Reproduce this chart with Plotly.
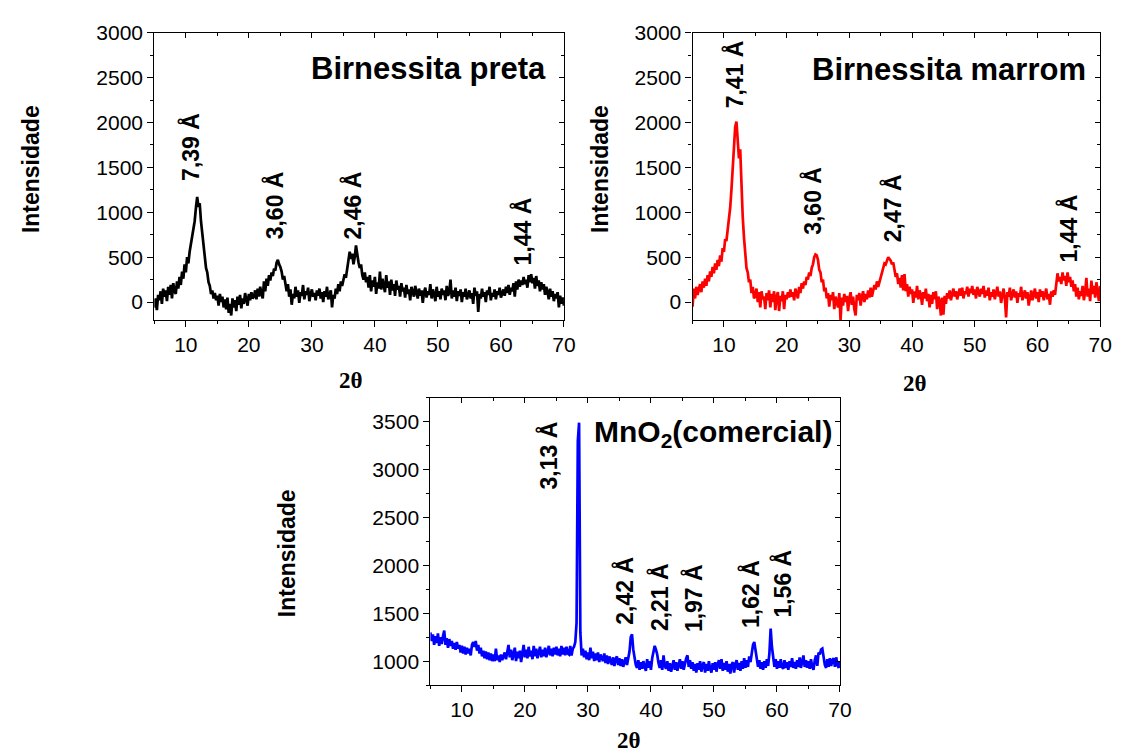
import numpy as np
import plotly.graph_objects as go

# 2-theta grid shared by all three patterns (5 to 70 degrees, 0.2 step)
two_theta = np.round(np.arange(5.0, 70.0001, 0.2), 1)

# Birnessita preta (black)
preta = [
    -60, 40, -90, 80, 20, 120, -20, 150, 60, 130,
    10, 170, 80, 190, 40, 210, 120, 90, 230, 150,
    280, 190, 340, 260, 420, 330, 500, 430, 560, 650,
    700, 820, 900, 1050, 1170, 1060, 1100, 900, 760, 620,
    520, 380, 330, 220, 180, 90, 130, 40, 100, 20,
    70, -40, 90, 0, 60, -60, 30, -80, 50, -120,
    -20, -150, 40, -60, 20, -100, 60, -30, 80, -70,
    40, -20, 100, 10, -40, 90, 20, 110, 40, 60,
    130, 30, 150, 60, 170, 90, 40, 230, 120, 260,
    180, 300, 240, 330, 290, 370, 350, 440, 470, 420,
    390, 340, 250, 290, 170, 120, 200, 60, 140, -30,
    90, 40, 170, 60, 130, -10, 110, 70, 190, 30,
    120, 80, 160, 10, 90, 140, 60, 100, 20, 130,
    70, 150, 40, 110, 0, 120, 60, 170, 30, 90,
    130, -60, 80, 40, 150, 90, 200, 120, 230, 180,
    250, 310, 270, 390, 450, 560, 480, 540, 420, 500,
    630, 520, 440, 380, 420, 300, 250, 330, 220, 280,
    160, 300, 120, 240, 170, 280, 90, 220, 150, 340,
    140, 260, 190, 110, 300, 160, 230, 80, 250, 130,
    200, 70, 240, 140, 180, 60, 210, 120, 160, 50,
    190, 90, 140, 20, 170, 100, 60, 180, 120, 40,
    150, 70, 130, -10, 110, 160, 50, 120, 80, 200,
    40, 140, 90, 10, 170, 60, 120, 30, 150, 80,
    130, 20, 180, 70, 110, 250, 40, 130, 60, 160,
    10, 120, 70, 140, 0, 110, 60, 150, 30, 90,
    130, 40, 100, -20, 160, 70, 120, -110, 90, 40,
    150, 60, 110, 0, 130, 80, 170, 20, 100, 60,
    140, 30, 120, 80, 160, 50, 110, 140, 70, 170,
    100, 190, 80, 160, 120, 210, 60, 230, 140, 250,
    170, 240, 190, 280, 200, 250, 160, 300, 220, 310,
    210, 270, 150, 290, 180, 240, 120, 220, 140, 200,
    80, 170, 110, 30, 150, 60, 120, 10, 90, 40,
    110, -60, 70, -20, 50, -40,
]

# Birnessita marrom (red)
marrom = [
    -50, 150, 40, 170, 80, 130, 200, 110, 230, 160,
    260, 180, 300, 230, 340, 280, 390, 320, 430, 360,
    470, 400, 520, 450, 600, 560, 700, 680, 790, 900,
    1050, 1250, 1500, 1700, 1950, 2010, 1850, 1600, 1700, 1200,
    950, 720, 560, 380, 330, 220, 250, 100, 170, 40,
    80, 150, 0, 110, -60, 120, 30, 60, -80, 100,
    20, 130, -60, 90, 0, 120, -90, 60, 110, -100,
    70, 10, 120, -80, 80, 30, 110, 50, 140, 60,
    110, 20, 150, 80, 40, 170, 100, 210, 150, 230,
    190, 280, 250, 330, 290, 380, 420, 500, 530, 520,
    470, 360, 330, 220, 250, 120, 160, 40, 100, -50,
    80, 20, 110, -80, 60, 0, -60, 100, -200, 50,
    -40, 90, 0, 70, -100, 40, 110, -30, 60, -80,
    -150, 80, 20, 100, -40, 60, 120, 0, 90, 30,
    130, 50, 160, 60, 120, 190, 140, 230, 170, 220,
    260, 330, 390, 430, 420, 470, 500, 480, 460, 420,
    440, 360, 280, 320, 200, 270, 160, 300, 130, 310,
    120, 200, 60, 170, 90, 140, -10, 120, 50, 180,
    30, 130, 80, -30, 110, 40, 150, 10, 90, -60,
    80, -20, 110, 30, 120, -80, 60, 10, -150, 50,
    -140, 70, -20, 100, 40, 130, 20, 90, 150, 60,
    120, 30, 110, 150, 70, 160, 40, 120, 90, 170,
    60, 150, 100, 180, 80, 140, 40, 170, 110, 60,
    150, 90, 180, 50, 130, 70, 160, 20, 110, 60,
    140, 30, 100, 170, 60, 120, -10, 90, 150, 40,
    -170, 110, 60, 160, 20, 90, 140, 50, 120, -10,
    100, 60, 170, 20, 90, 130, 40, 110, -40, 80,
    130, 20, 90, 150, 40, 110, 0, 140, 60, 120,
    20, 100, 150, 30, 90, -30, 120, 60, 130, 80,
    190, 320, 230, 280, 200, 330, 240, 290, 180, 330,
    220, 280, 170, 240, 120, 200, 60, 160, 30, 120,
    70, 180, 20, 110, 270, 60, 150, 10, 240, 90,
    180, 50, 220, 120, 10, 180,
]

# MnO2 comercial (blue)
mno2 = [
    1300, 1210, 1280, 1170, 1260, 1190, 1290, 1160, 1250, 1180,
    1260, 1320, 1170, 1240, 1140, 1230, 1160, 1210, 1130, 1190,
    1120, 1200, 1130, 1170, 1090, 1160, 1080, 1150, 1070, 1140,
    1080, 1130, 1060, 1170, 1200, 1150, 1210, 1110, 1170, 1080,
    1140, 1050, 1110, 1030, 1100, 1020, 1090, 1010, 1080, 1000,
    1070, 1000, 1130, 1010, 1060, 990, 1070, 1010, 1050, 1090,
    1020, 1100, 1170, 1040, 1120, 1010, 1090, 1140, 1000, 1100,
    1030, 1110, 990, 1090, 1170, 1040, 1120, 1030, 1150, 1050,
    1110, 1020, 1160, 1050, 1130, 1030, 1110, 1150, 1040, 1120,
    1050, 1140, 1040, 1120, 1160, 1060, 1130, 1050, 1140, 1070,
    1150, 1060, 1130, 1050, 1160, 1070, 1140, 1060, 1150, 1080,
    1070, 1160, 1060, 1130, 1150, 1200, 1400, 3300, 3490, 1300,
    1060, 1130, 1040, 1110, 1020, 1090, 1010, 1140, 1030, 1100,
    1000, 1080, 1010, 1090, 990, 1070, 1020, 1000, 1080, 980,
    1060, 970, 1050, 990, 960, 1040, 950, 1020, 1050, 960,
    1030, 950, 1020, 940, 1010, 1040, 960, 1050, 1100, 1250,
    1280, 1120, 1040, 960, 930, 1010, 910, 990, 920, 1000,
    940, 900, 1020, 930, 1000, 910, 1030, 1080, 1160, 1120,
    1070, 980, 930, 1010, 910, 1060, 950, 920, 1000, 900,
    980, 890, 970, 1010, 910, 990, 900, 980, 1020, 920,
    1000, 910, 990, 1030, 1060, 940, 1010, 920, 990, 900,
    970, 880, 980, 910, 1000, 890, 960, 990, 880, 970,
    900, 1000, 920, 880, 980, 910, 990, 890, 970, 1010,
    920, 1020, 900, 980, 910, 1000, 890, 970, 870, 960,
    990, 880, 970, 1010, 910, 980, 900, 1000, 920, 1030,
    930, 1010, 940, 1050, 990, 1090, 1170, 1200, 1100, 1000,
    940, 1010, 920, 990, 910, 1000, 930, 1020, 950, 1080,
    1340, 1150, 1010, 940, 1020, 920, 1000, 930, 1020, 940,
    920, 1010, 930, 990, 910, 1000, 940, 1030, 930, 990,
    920, 1010, 940, 1040, 930, 1000, 1060, 940, 1010, 930,
    1000, 920, 1020, 940, 910, 1010, 1060, 950, 1090, 1070,
    1120, 1130, 1030, 960, 930, 1020, 940, 1030, 950, 1010,
    1030, 940, 1040, 960, 930, 1000,
]

# Peak labels: (2-theta position, intensity at label base, text)
preta_peaks = [(10.7, 1330, "7,39 Å"), (24.2, 680, "3,60 Å"),
               (36.6, 680, "2,46 Å"), (63.4, 390, "1,44 Å")]
marrom_peaks = [(11.7, 2130, "7,41 Å"), (24.1, 730, "3,60 Å"),
                (36.9, 640, "2,47 Å"), (64.9, 420, "1,44 Å")]
mno2_peaks = [(23.8, 2770, "3,13 Å"), (35.9, 1360, "2,42 Å"),
              (41.4, 1290, "2,21 Å"), (46.8, 1280, "1,97 Å"),
              (55.8, 1330, "1,62 Å"), (60.9, 1430, "1,56 Å")]

NARROW = "Liberation Sans Narrow, Arial Narrow, Liberation Sans, Arial, sans-serif"
SANS = "Liberation Sans, Arial, sans-serif"
SERIF = "Liberation Serif, Times New Roman, serif"

W, H = 1128, 753

# panel boxes in pixels: (left, right, top, bottom)
panels = [
    dict(box=(156, 570, 21, 313), yr=[-200, 3000], color="#000000",
         data=preta, peaks=preta_peaks),
    dict(box=(700, 1112, 21, 313), yr=[-200, 3000], color="#ff0000",
         data=marrom, peaks=marrom_peaks),
    dict(box=(435, 849, 392, 684), yr=[750, 3750], color="#0000ff",
         data=mno2, peaks=mno2_peaks),
]

fig = go.Figure()
layout = {}
annotations = []

for i, p in enumerate(panels):
    l, r, t, b = p["box"]
    xd = [l / W, r / W]
    yd = [1 - b / H, 1 - t / H]
    n = i + 1
    xs = "" if n == 1 else str(n)
    ov = str(n + 3)

    fig.add_trace(go.Scatter(
        x=two_theta, y=p["data"], mode="lines",
        line=dict(color=p["color"], width=2.7),
        xaxis="x" + xs, yaxis="y" + xs, showlegend=False, hoverinfo="skip"))
    # empty trace so the mirrored (inner-tick) axes are drawn
    fig.add_trace(go.Scatter(x=[], y=[], xaxis="x" + ov, yaxis="y" + ov,
                             showlegend=False, hoverinfo="skip"))

    common = dict(showgrid=False, zeroline=False, linecolor="#000000",
                  linewidth=1.2, tickcolor="#000000", tickwidth=1.2)
    layout["xaxis" + xs] = dict(
        domain=xd, anchor="y" + xs, range=[5, 70], dtick=10, tick0=0,
        ticks="outside", ticklen=6, showline=True, mirror=True,
        minor=dict(ticks="outside", ticklen=3, dtick=5, tick0=0,
                   tickcolor="#000000", tickwidth=1.2),
        tickfont=dict(family=SANS, size=21, color="#000000"), **common)
    layout["yaxis" + xs] = dict(
        domain=yd, anchor="x" + xs, range=p["yr"], dtick=500, tick0=0,
        ticks="outside", ticklen=6, showline=True, mirror=True,
        minor=dict(ticks="outside", ticklen=3, dtick=250, tick0=0,
                   tickcolor="#000000", tickwidth=1.2),
        tickfont=dict(family=SANS, size=21, color="#000000"), **common)
    # inner ticks along the top and right edges
    layout["xaxis" + ov] = dict(
        overlaying="x" + xs, side="top", anchor="y" + ov, range=[5, 70],
        dtick=10, tick0=0, ticks="inside", ticklen=5, showticklabels=False,
        minor=dict(ticks="inside", ticklen=3, dtick=5, tick0=0,
                   tickcolor="#000000", tickwidth=1.2), **common)
    layout["yaxis" + ov] = dict(
        overlaying="y" + xs, side="right", anchor="x" + ov, range=p["yr"],
        dtick=500, tick0=0, ticks="inside", ticklen=5, showticklabels=False,
        minor=dict(ticks="inside", ticklen=3, dtick=250, tick0=0,
                   tickcolor="#000000", tickwidth=1.2), **common)

    for px, py, txt in p["peaks"]:
        annotations.append(dict(
            x=px, y=py, xref="x" + xs, yref="y" + xs, text="<b>" + txt + "</b>",
            textangle=-90, showarrow=False, xanchor="center", yanchor="bottom",
            font=dict(family=NARROW, size=23, color="#000000")))

# panel titles
annotations += [
    dict(x=554 / W, y=1 - 57 / H, xref="paper", yref="paper",
         text="<b>Birnessita preta</b>", showarrow=False,
         xanchor="right", yanchor="middle",
         font=dict(family=NARROW, size=31, color="#000000")),
    dict(x=1100 / W, y=1 - 58 / H, xref="paper", yref="paper",
         text="<b>Birnessita marrom</b>", showarrow=False,
         xanchor="right", yanchor="middle",
         font=dict(family=NARROW, size=31, color="#000000")),
    dict(x=843 / W, y=1 - 428 / H, xref="paper", yref="paper",
         text="<b>MnO<sub>2</sub>(comercial)</b>", showarrow=False,
         xanchor="right", yanchor="middle",
         font=dict(family=NARROW, size=30, color="#000000")),
]

# axis titles
for x_px, y_px in [(32, 160), (607, 160), (290, 550)]:
    annotations.append(dict(
        x=x_px / W, y=1 - y_px / H, xref="paper", yref="paper",
        text="<b>Intensidade</b>", textangle=-90, showarrow=False,
        xanchor="center", yanchor="middle",
        font=dict(family=SANS, size=23, color="#000000")))
for x_px, y_px in [(355, 374), (925, 378), (636, 740)]:
    annotations.append(dict(
        x=x_px / W, y=1 - y_px / H, xref="paper", yref="paper",
        text="<b>2θ</b>", showarrow=False,
        xanchor="center", yanchor="middle",
        font=dict(family=SERIF, size=23, color="#000000")))

fig.update_layout(
    width=W, height=H, margin=dict(l=0, r=0, t=0, b=0),
    paper_bgcolor="#ffffff", plot_bgcolor="#ffffff",
    annotations=annotations, **layout)

fig.write_html("out.html")
